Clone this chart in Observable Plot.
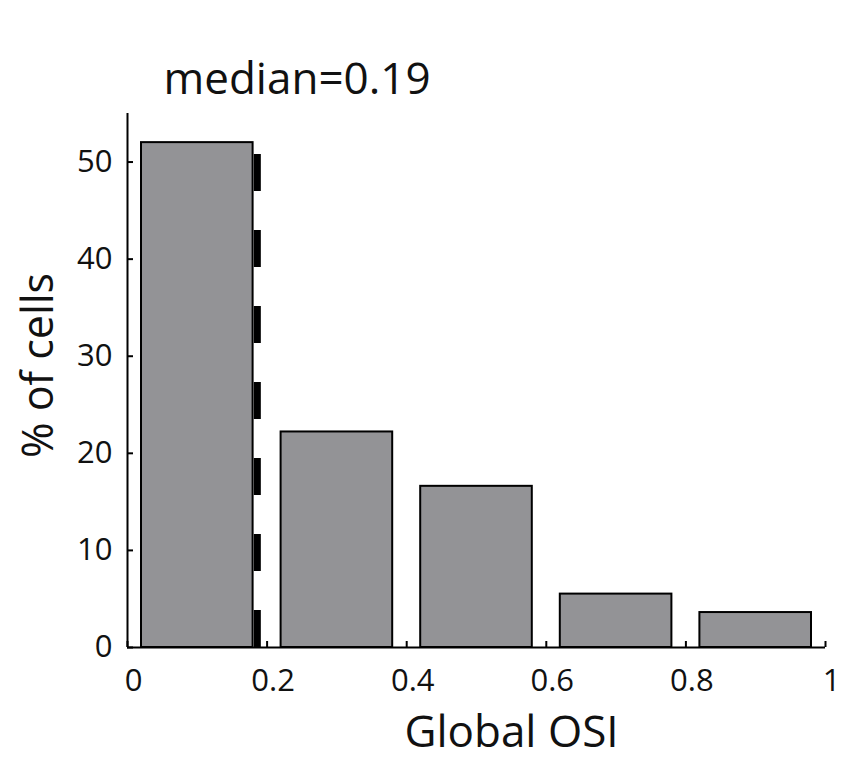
<!DOCTYPE html>
<html><head><meta charset="utf-8">
<script src="https://cdn.jsdelivr.net/npm/d3@7"></script>
<script src="https://cdn.jsdelivr.net/npm/@observablehq/plot@0.6"></script>
<style>body{margin:0;background:#fff}</style>
</head><body><div id="chart"></div>
<script>
// Histogram of Global OSI (bin edges and % of cells)
const binStarts = [0, 0.2, 0.4, 0.6, 0.8];
const binEnds = [0.2, 0.4, 0.6, 0.8, 1.0];
const percentCells = [52, 22.2, 16.6, 5.5, 3.6];
const medianOSI = 0.186;
const medianText = "median=0.19";
const xTicks = [0, 0.2, 0.4, 0.6, 0.8, 1];
const xTickLabels = ["0", "0.2", "0.4", "0.6", "0.8", "1"];
const yTicks = [0, 10, 20, 30, 40, 50];
const yTickLabels = ["0", "10", "20", "30", "40", "50"];
const xTitle = "Global OSI";
const yTitle = "% of cells";

const bars = binStarts.map((s, i) => ({x1: s, x2: binEnds[i], y: percentCells[i]}));

const W = 841, H = 760, ML = 127, MR = 16, MT = 113, MB = 113;
const plotW = W - ML - MR, plotH = H - MT - MB;
const font = "'Open Sans', sans-serif";

const chart = Plot.plot({
  width: W, height: H,
  marginLeft: ML, marginRight: MR, marginTop: MT, marginBottom: MB,
  x: {domain: [0, 1], axis: null},
  y: {domain: [0, 55], axis: null},
  style: {fontFamily: font, background: "#fff", color: "#000"},
  marks: [
    Plot.rectY(bars, {x1: "x1", x2: "x2", y: "y", fill: "#939396", stroke: "#000", strokeWidth: 2, insetLeft: 14, insetRight: 14}),
    Plot.ruleX([medianOSI], {x: d => d, y1: 0, y2: percentCells[0], stroke: "#000", strokeWidth: 7, strokeDasharray: "37,39"}),
    Plot.ruleY([0], {stroke: "#000", strokeWidth: 2}),
    Plot.ruleX([0], {stroke: "#000", strokeWidth: 2}),
    Plot.tickX(xTicks, {x: d => d, insetTop: plotH - 6, stroke: "#000", strokeWidth: 2}),
    Plot.tickY(yTicks, {y: d => d, insetRight: plotW - 6, stroke: "#000", strokeWidth: 2}),
    Plot.text(xTickLabels, {x: (d, i) => xTicks[i], text: d => d, frameAnchor: "bottom", lineAnchor: "bottom", dx: 6, dy: 43, fontSize: 31, fill: "#111"}),
    Plot.text(yTickLabels, {y: (d, i) => yTicks[i], text: d => d, frameAnchor: "left", textAnchor: "end", lineAnchor: "middle", dx: -15, fontSize: 31, fill: "#111"}),
    Plot.text([medianText], {text: d => d, frameAnchor: "top-left", textAnchor: "start", lineAnchor: "bottom", dx: 36, dy: -20, fontSize: 44, fill: "#111"}),
    Plot.text([xTitle], {text: d => d, frameAnchor: "bottom", textAnchor: "middle", lineAnchor: "bottom", dx: 35, dy: 99, fontSize: 44, fill: "#111"}),
    Plot.text([yTitle], {text: d => d, frameAnchor: "left", textAnchor: "middle", lineAnchor: "bottom", rotate: -90, dx: -75, dy: -15, fontSize: 43, fill: "#111"})
  ]
});
document.getElementById("chart").appendChild(chart);
</script>
</body></html>
